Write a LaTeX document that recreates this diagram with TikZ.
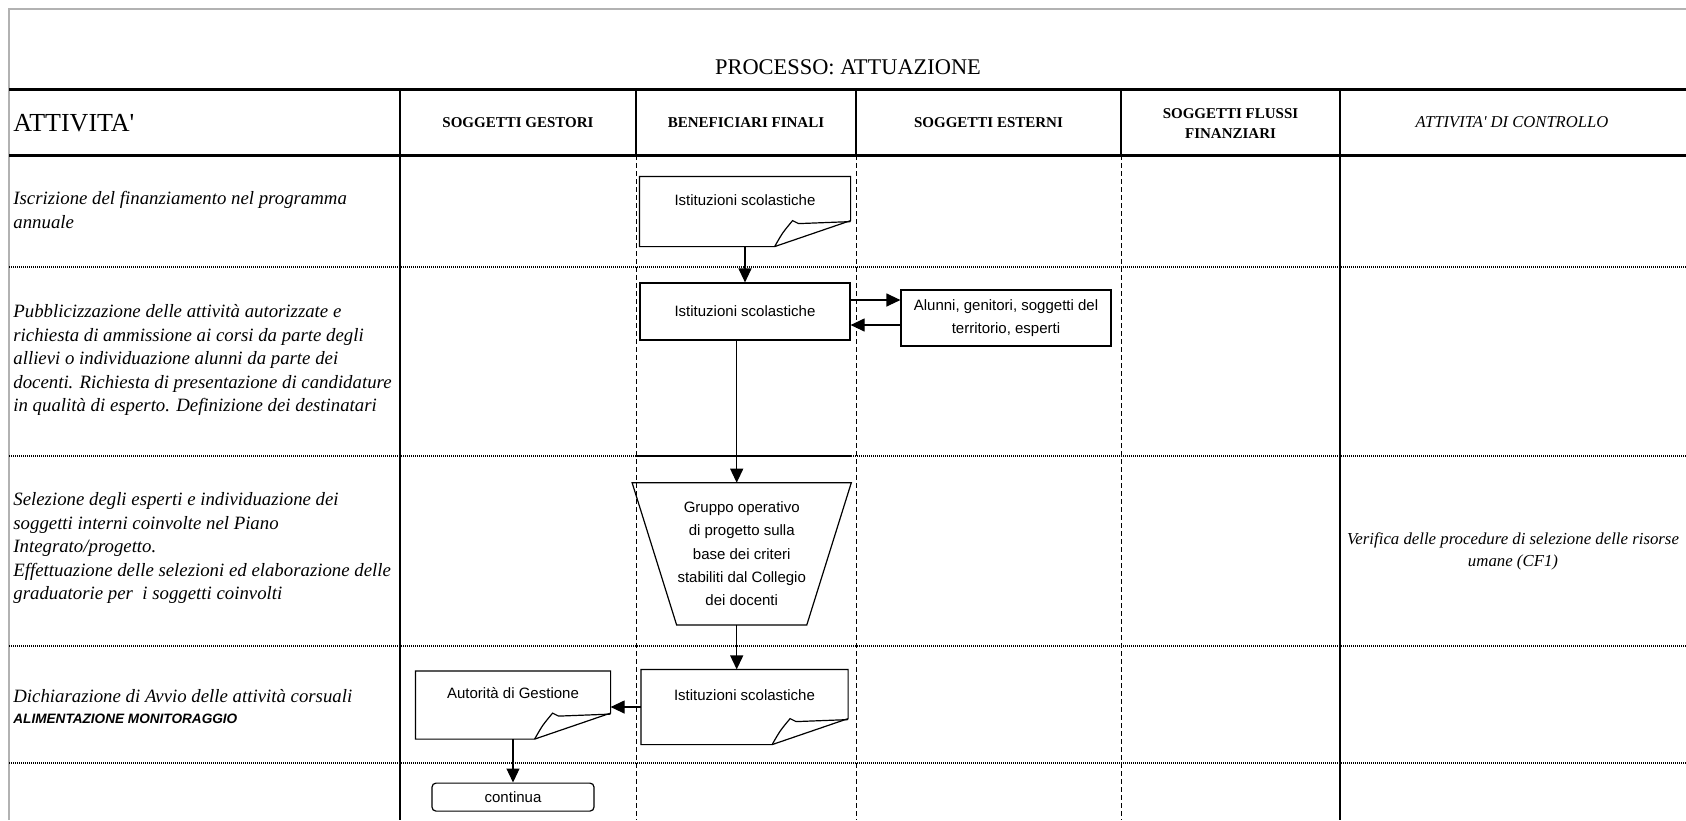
\documentclass[tikz,border=0pt]{standalone}
\usepackage{fontspec}
\setmainfont{Liberation Serif}
\setsansfont{Liberation Sans}
\usetikzlibrary{arrows.meta,positioning,calc}

% outline of a sheet with a curled corner, drawn round a named node
\newcommand{\curlsheet}[1]{%
  \draw[boxline] (#1.south west) -- (#1.north west) -- (#1.north east)
    -- ([yshift=13pt]#1.south east) -- ([xshift=-38pt]#1.south east) -- cycle;
  \draw[boxline] ([xshift=-38pt]#1.south east)
    .. controls ([xshift=-34pt,yshift=7pt]#1.south east) .. ([xshift=-29pt,yshift=13pt]#1.south east)
    -- ([xshift=-26pt,yshift=11.5pt]#1.south east) -- ([yshift=12.5pt]#1.south east);
}
% funnel outline round a named node
\newcommand{\funnel}[1]{%
  \draw[boxline] (#1.north west) -- (#1.north east)
    -- ([xshift=-22.25pt]#1.south east) -- ([xshift=22.25pt]#1.south west) -- cycle;
}

\begin{document}
\begin{tikzpicture}[
    x=0.5pt,y=-0.5pt,
    boxline/.style={draw=black,line width=0.6pt},
    plainbox/.style={draw,line width=0.6pt,inner sep=0pt,align=center,font=\sffamily\fontsize{7.5}{11.65}\selectfont},
    sheetbox/.style={plainbox,draw=none,text height=5.5pt,text depth=11.6pt},
    funnelbox/.style={plainbox,draw=none},
    arrow/.style={line width=0.6pt,-{Triangle[length=7pt,width=6.5pt]}},
    activity/.style={anchor=west,align=left,inner sep=0pt,font=\itshape\fontsize{9.4}{11.75}\selectfont},
    colhead/.style={align=center,inner sep=0pt,font=\bfseries\fontsize{7.5}{10}\selectfont},
    dashsep/.style={line width=0.5pt,dash pattern=on 2.5pt off 1.5pt},
    dotsep/.style={line width=0.6pt,dash pattern=on 0.5pt off 0.5pt}
]
    \useasboundingbox (0,0) rectangle (1686,820);

    % table
    \draw[gray!60,line width=0.6pt] (9,820) -- (9,9) -- (1686,9);
    \draw[line width=1.5pt] (9,89) -- (1686,89) (9,155) -- (1686,155);
    \foreach \x in {400,636,856,1121,1340} \draw[line width=0.7pt] (\x,89) -- (\x,155);
    \foreach \x in {400,1340} \draw[line width=0.7pt] (\x,155) -- (\x,820);
    \foreach \x in {636,856,1121} \draw[dashsep] (\x,155) -- (\x,820);
    \foreach \y in {267,456,646,763} \draw[dotsep] (9,\y) -- (1686,\y);
    \draw[line width=0.7pt] (636,456) -- (851,456);

    % headings
    \node[font=\fontsize{11.2}{13}\selectfont] (title) at (848,67) {PROCESSO: ATTUAZIONE};
    \node[anchor=west,inner sep=0pt,font=\fontsize{13}{15}\selectfont] (hatt) at (13,123) {ATTIVITA\textquotesingle};
    \node[colhead] (hges) at (518,123) {SOGGETTI GESTORI};
    \node[colhead] (hben) at (746,123) {BENEFICIARI FINALI};
    \node[colhead] (hest) at (988.5,123) {SOGGETTI ESTERNI};
    \node[colhead] (hflu) at (1230.5,124) {SOGGETTI FLUSSI\\FINANZIARI};
    \node[inner sep=0pt,font=\itshape\fontsize{8.3}{10}\selectfont] (hctl) at (1512,122) {ATTIVITA\textquotesingle{} DI CONTROLLO};

    % activities
    \node[activity] (act1) at (13,210) {Iscrizione del finanziamento nel programma\\annuale};
    \node[activity] (act2) at (13,360) {Pubblicizzazione delle attività autorizzate e\\richiesta di ammissione ai corsi da parte degli\\allievi o individuazione alunni da parte dei\\docenti. Richiesta di presentazione di candidature\\in qualità di esperto. Definizione dei destinatari};
    \node[activity] (act3) at (13,548) {Selezione degli esperti e individuazione dei\\soggetti interni coinvolte nel Piano\\Integrato/progetto.\\Effettuazione delle selezioni ed elaborazione delle\\graduatorie per\ \ i soggetti coinvolti};
    \node[activity,font=\itshape\fontsize{9.4}{10.5}\selectfont] (act4) at (13,707) {Dichiarazione di Avvio delle attività corsuali\\{\sffamily\bfseries\fontsize{6.8}{10.5}\selectfont ALIMENTAZIONE MONITORAGGIO}};
    \node[align=center,inner sep=0pt,font=\itshape\fontsize{8.4}{11}\selectfont] (ctl) at (1513,551) {Verifica delle procedure di selezione delle risorse\\umane (CF1)};

    % flow
    \node[sheetbox,minimum width=105pt,minimum height=34.5pt] (ist1) at (745,211.5) {Istituzioni scolastiche};
    \node[plainbox,minimum width=105pt,minimum height=28.5pt] (ist2) at (745,311.5) {Istituzioni scolastiche};
    \node[plainbox,minimum width=105pt,minimum height=28pt] (alunni) at (1006,318) {Alunni, genitori, soggetti del\\territorio, esperti};
    \node[funnelbox,minimum width=109pt,minimum height=70.5pt] (grp) at (741.7,553.8) {Gruppo operativo\\di progetto sulla\\base dei criteri\\stabiliti dal Collegio\\dei docenti};
    \node[sheetbox,minimum width=103pt,minimum height=37pt] (ist4) at (744.5,707) {Istituzioni scolastiche};
    \node[sheetbox,minimum width=97pt,minimum height=33.5pt] (aut) at (513,705) {Autorità di Gestione};
    \node[plainbox,rounded corners=2pt,minimum width=81pt,minimum height=14pt,below=21.7pt of aut] (cont) {continua};

    \curlsheet{ist1}
    \curlsheet{ist4}
    \curlsheet{aut}
    \funnel{grp}

    \draw[arrow] (ist1) -- (ist2);
    \draw[arrow] ([yshift=5.75pt]ist2.east) -- ([yshift=5.75pt]ist2.east -| alunni.west);
    \draw[arrow] ([yshift=-3.5pt]alunni.west) -- ([yshift=-3.5pt]alunni.west -| ist2.east);
    \draw[arrow] ([xshift=-4.15pt]ist2.south) -- ([xshift=-4.15pt]ist2.south |- grp.north);
    \draw[arrow] ([xshift=-2.5pt]grp.south) -- ([xshift=-2.5pt]grp.south |- ist4.north);
    \draw[arrow] (ist4.west) -- (ist4.west -| aut.east);
    \draw[arrow] (aut) -- (cont);
\end{tikzpicture}
\end{document}
